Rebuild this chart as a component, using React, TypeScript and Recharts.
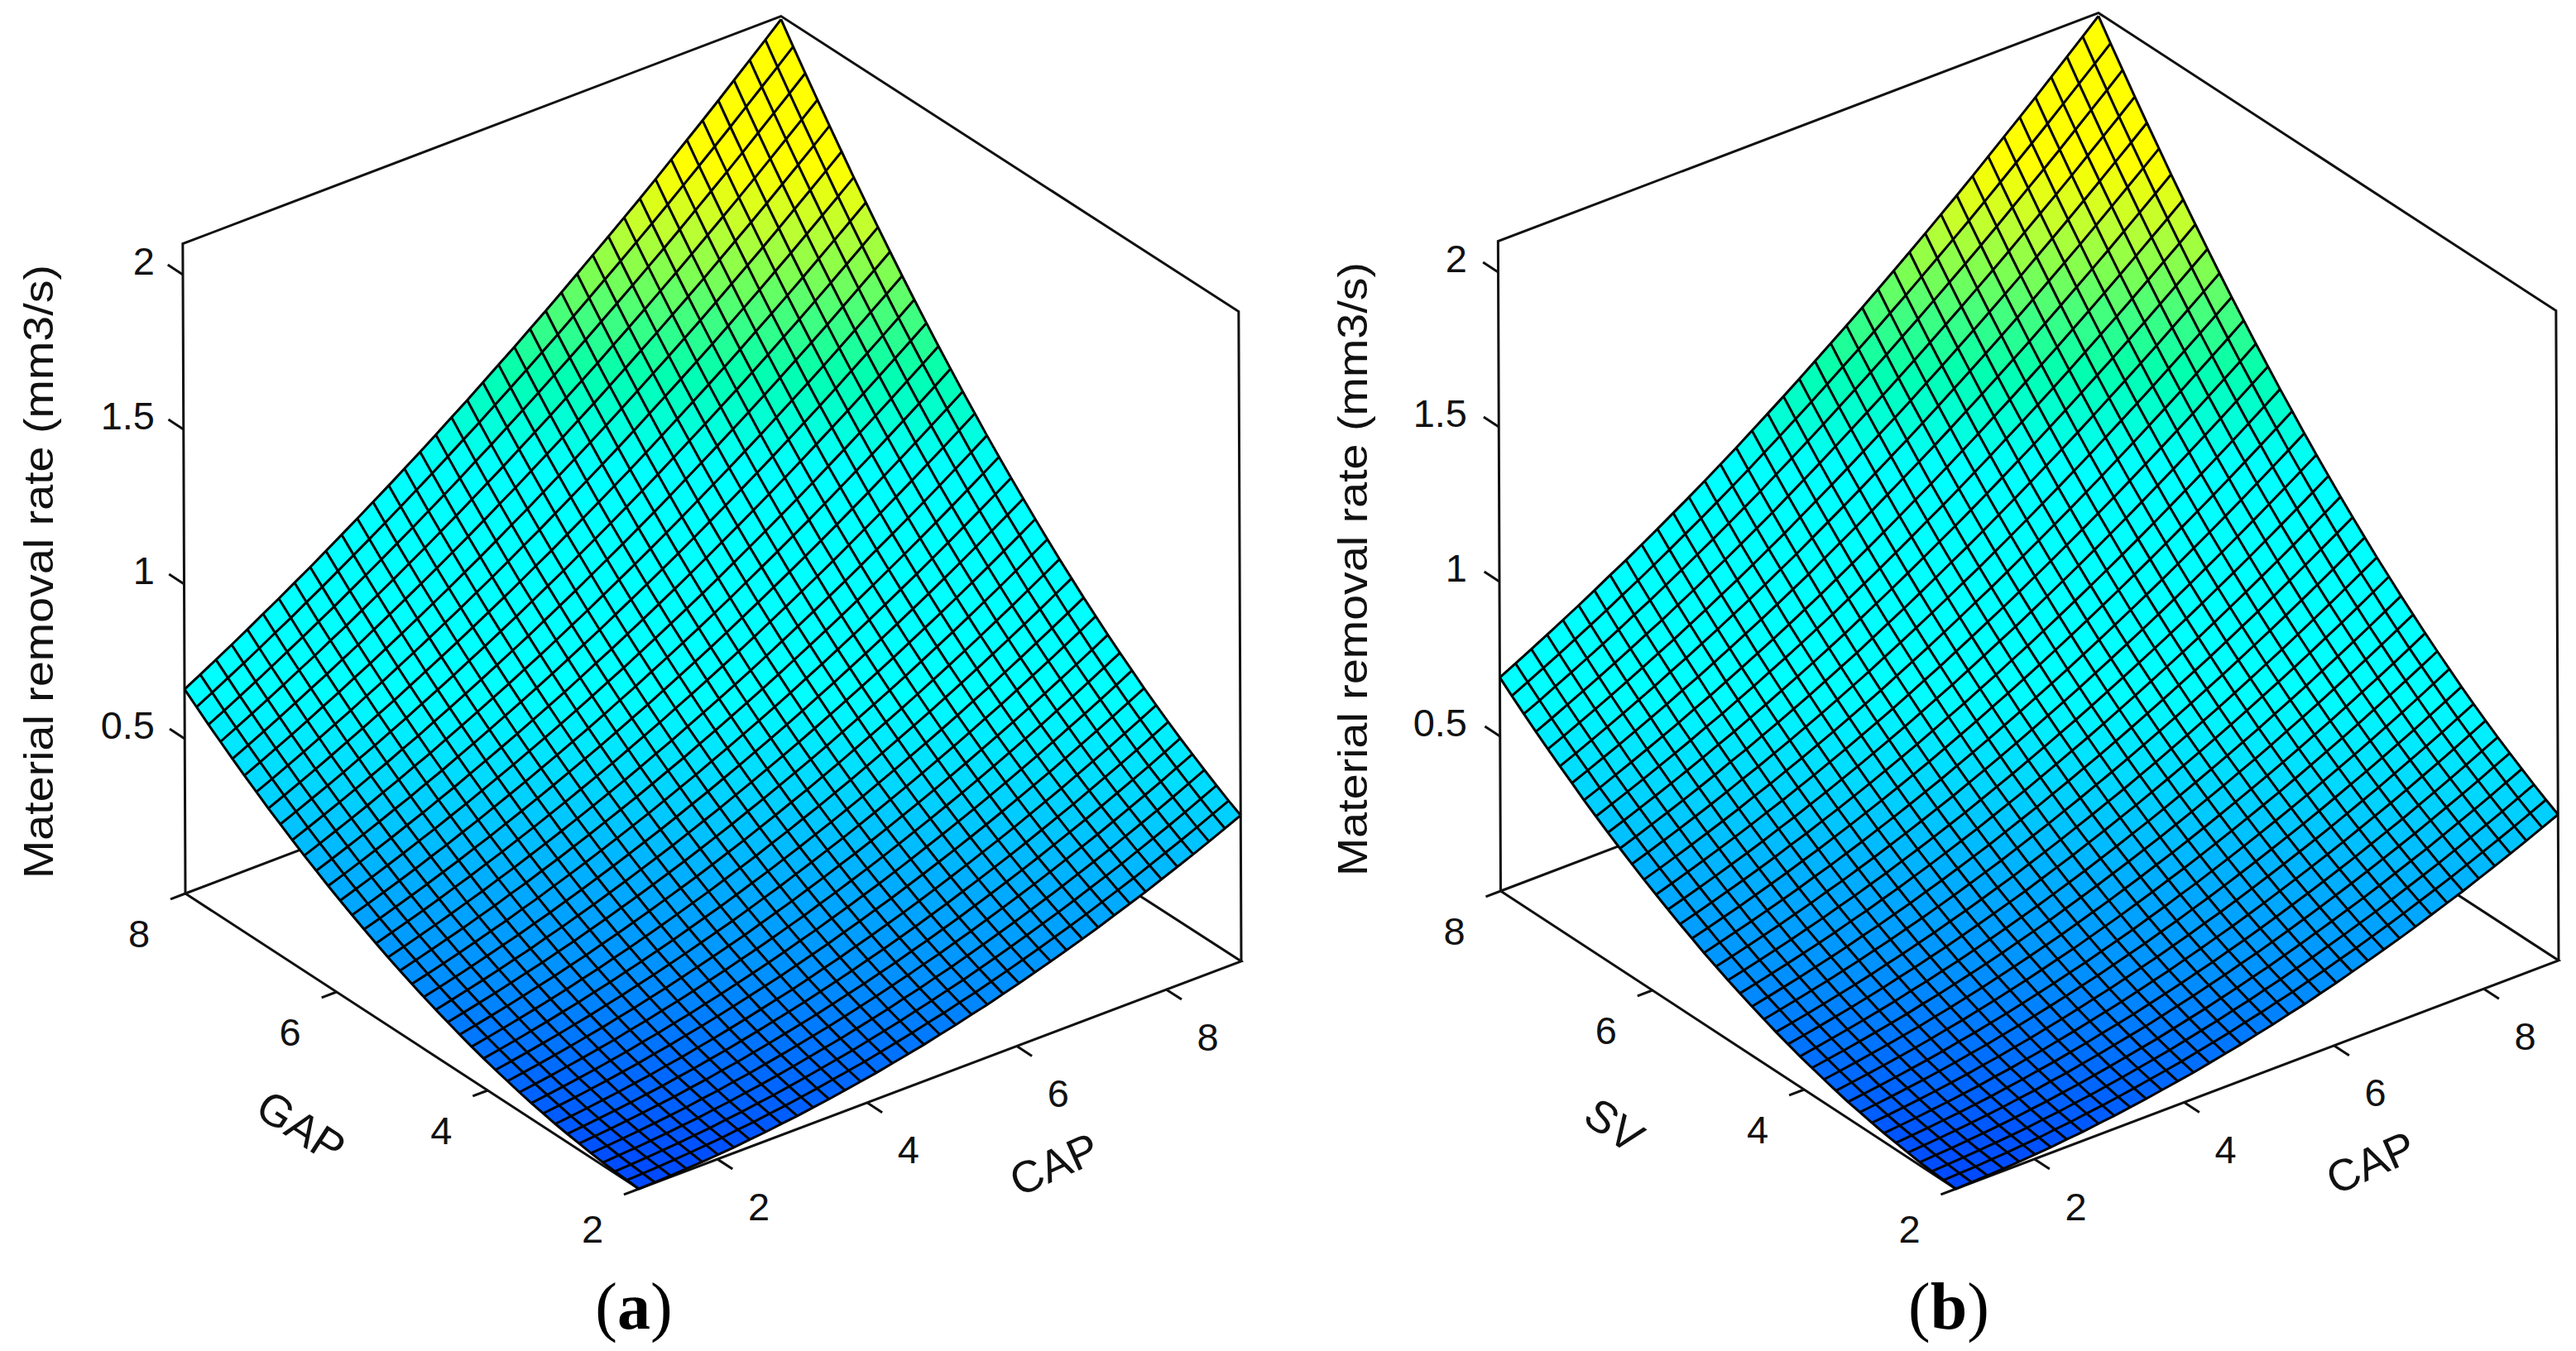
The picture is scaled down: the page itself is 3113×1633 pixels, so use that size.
import React from 'react';
import { ScatterChart, Scatter, XAxis, YAxis } from 'recharts';

const WIDTH = 3113;
const HEIGHT = 1633;

const capTicks = [2, 4, 6, 8];
const gapTicks = [2, 4, 6, 8];
const rateTicks = [0.5, 1, 1.5, 2];

// Surface heights read along the four edges of each mesh (39 nodes per edge).
// The interior table is built from these edges, it was not read node by node.
const aLowGapEdge = [0, .002, .004, .007, .010, .014, .018, .024, .029, .036, .042, .050, .058, .067, .076, .085, .096, .107, .118, .131, .143, .157, .170, .185, .200, .216, .232, .249, .266, .284, .303, .322, .341, .362, .383, .404, .426, .449, .472];
const aHighGapEdge = [.66, .688, .717, .746, .776, .807, .837, .869, .900, .933, .966, .999, 1.033, 1.067, 1.102, 1.137, 1.173, 1.210, 1.246, 1.284, 1.322, 1.360, 1.399, 1.438, 1.478, 1.519, 1.560, 1.601, 1.643, 1.685, 1.728, 1.772, 1.816, 1.860, 1.905, 1.951, 1.997, 2.043, 2.09];
const aLowCapEdge = [0, .003, .006, .010, .015, .021, .027, .034, .043, .051, .061, .072, .083, .095, .108, .122, .137, .152, .168, .185, .203, .221, .241, .261, .282, .304, .326, .350, .374, .399, .425, .451, .479, .507, .536, .566, .596, .628, .66];
const aHighCapEdge = [.472, .494, .518, .543, .569, .595, .623, .652, .682, .714, .746, .779, .814, .849, .886, .923, .962, 1.002, 1.043, 1.085, 1.128, 1.172, 1.218, 1.264, 1.312, 1.360, 1.410, 1.460, 1.512, 1.565, 1.619, 1.674, 1.730, 1.788, 1.846, 1.905, 1.966, 2.027, 2.09];

const bLowSvEdge = aLowGapEdge;
const bHighSvEdge = [.69, .716, .743, .770, .798, .826, .855, .885, .914, .945, .976, 1.008, 1.040, 1.073, 1.107, 1.141, 1.177, 1.213, 1.249, 1.286, 1.324, 1.362, 1.400, 1.439, 1.479, 1.519, 1.560, 1.601, 1.643, 1.685, 1.728, 1.772, 1.816, 1.860, 1.905, 1.951, 1.997, 2.043, 2.09];
const bLowCapEdge = [0, .003, .006, .010, .016, .022, .028, .036, .045, .053, .064, .075, .087, .099, .113, .127, .143, .159, .176, .193, .212, .231, .252, .273, .295, .318, .341, .366, .391, .417, .444, .471, .501, .530, .560, .591, .623, .656, .69];
const bHighCapEdge = aHighCapEdge;

// colour stops of the surface: height, then colour
const colourHeights = [0, .05, .2, .35, .5, .66, 1.1, 1.3, 1.42, 1.52, 1.62, 1.75, 2.1];
const colourValues = ['#0048ff', '#0060ff', '#0090ff', '#00b0ff', '#00d8ff', '#00ffff', '#00ffff', '#00ffb0', '#40ff80', '#80ff50', '#c0ff30', '#ffff00', '#ffff00'];

const CAP_MIN = 0.95;
const CAP_MAX = 9;
const GAP_MIN = 2;
const GAP_MAX = 8;
const RATE_TOP = 2.1;

const panels = [
  {
    id: 'a', front: [772, 1437], capSpan: [728, -275], gapSpan: [-548, -357], rateStep: [-1.5, -374], twist: 5,
    lowSide: aLowGapEdge, highSide: aHighGapEdge, lowCap: aLowCapEdge, highCap: aHighCapEdge,
    depthName: 'GAP', depthLabel: [364, 1362, 33], capLabel: [1274, 1407, -24], rateX: 187, titleX: 47, titleY: 691, caption: [766, 1579],
  },
  {
    id: 'b', front: [2363.5, 1437], capSpan: [728.5, -276], gapSpan: [-550, -360], rateStep: [-1.5, -374], twist: 3,
    lowSide: bLowSvEdge, highSide: bHighSvEdge, lowCap: bLowCapEdge, highCap: bHighCapEdge,
    depthName: 'SV', depthLabel: [1951, 1360, 35], capLabel: [2865, 1405, -24], rateX: 1773, titleX: 1635, titleY: 688, caption: [2355, 1579],
  },
];

type Panel = (typeof panels)[number];

const project = (p: Panel, cap: number, gap: number, rate: number) => {
  const u = (cap - CAP_MIN) / (CAP_MAX - CAP_MIN);
  const v = (gap - GAP_MIN) / (GAP_MAX - GAP_MIN);
  return {
    vx: p.front[0] + u * p.capSpan[0] + v * p.gapSpan[0] + rate * p.rateStep[0] - p.twist * u * v,
    vy: p.front[1] + u * p.capSpan[1] + v * p.gapSpan[1] + rate * p.rateStep[1],
  };
};

const buildHeights = (p: Panel) => {
  const n = p.lowSide.length - 1;
  const c00 = p.lowSide[0];
  const c10 = p.lowSide[n];
  const c01 = p.highSide[0];
  const c11 = p.highSide[n];
  const rows: number[][] = [];
  for (let j = 0; j <= n; j++) {
    const v = j / n;
    const row: number[] = [];
    for (let i = 0; i <= n; i++) {
      const u = i / n;
      row.push(
        (1 - v) * p.lowSide[i] + v * p.highSide[i] + (1 - u) * p.lowCap[j] + u * p.highCap[j]
          - ((1 - u) * (1 - v) * c00 + u * (1 - v) * c10 + (1 - u) * v * c01 + u * v * c11),
      );
    }
    rows.push(row);
  }
  return rows;
};

const colourFor = (h: number) => {
  let k = 0;
  while (k < colourHeights.length - 2 && h > colourHeights[k + 1]) k++;
  const t = Math.min(1, Math.max(0, (h - colourHeights[k]) / (colourHeights[k + 1] - colourHeights[k])));
  const a = colourValues[k];
  const b = colourValues[k + 1];
  const mix = (s: number) => {
    const x = parseInt(a.slice(s, s + 2), 16);
    const y = parseInt(b.slice(s, s + 2), 16);
    return Math.round(x + (y - x) * t);
  };
  return `rgb(${mix(1)},${mix(3)},${mix(5)})`;
};

const capAt = (i: number, n: number) => CAP_MIN + ((CAP_MAX - CAP_MIN) * i) / n;
const gapAt = (j: number, n: number) => GAP_MIN + ((GAP_MAX - GAP_MIN) * j) / n;

const buildCells = (p: Panel, rows: number[][]) => {
  const n = rows.length - 1;
  const cells: any[] = [];
  for (let j = 0; j < n; j++) {
    for (let i = 0; i < n; i++) {
      const corners = [[i, j], [i + 1, j], [i + 1, j + 1], [i, j + 1]].map(([a, b]) =>
        project(p, capAt(a, n), gapAt(b, n), rows[b][a]),
      );
      const vx = corners.reduce((s, c) => s + c.vx, 0) / 4;
      const vy = corners.reduce((s, c) => s + c.vy, 0) / 4;
      const mean = (rows[j][i] + rows[j][i + 1] + rows[j + 1][i + 1] + rows[j + 1][i]) / 4;
      cells.push({ vx, vy, fill: colourFor(mean), offsets: corners.map((c) => [c.vx - vx, c.vy - vy]) });
    }
  }
  return cells;
};

// the axes run one unit to one pixel, so the offsets can be used as they are
const CellShape = (props: any) => {
  const { cx, cy, payload } = props;
  const pts = payload.offsets.map((o: number[]) => `${cx + o[0]},${cy + o[1]}`).join(' ');
  return <polygon points={pts} fill={payload.fill} stroke={payload.fill} strokeWidth={0.6} />;
};

const NoMark = () => <g />;

const LabelShape = (props: any) => {
  const { cx, cy, payload } = props;
  return (
    <text
      x={cx}
      y={cy}
      textAnchor={payload.anchor || 'middle'}
      dominantBaseline="central"
      fontFamily="'Liberation Sans', Arial, sans-serif"
      fontSize={payload.size}
      fill="#111"
      textLength={payload.fit}
      lengthAdjust={payload.fit ? 'spacingAndGlyphs' : undefined}
      transform={payload.rotate ? `rotate(${payload.rotate} ${cx} ${cy})` : undefined}
    >
      {payload.text}
    </text>
  );
};

const CaptionShape = (props: any) => {
  const { cx, cy, payload } = props;
  return (
    <text x={cx} y={cy} textAnchor="middle" dominantBaseline="central" fontFamily="'Liberation Serif', 'Times New Roman', serif" fontSize={80} fill="#000">
      (<tspan fontWeight="bold">{payload.text}</tspan>)
    </text>
  );
};

const lineStyle = { stroke: '#111', strokeWidth: 3 };
const meshStyle = { stroke: '#000', strokeWidth: 3 };

const renderBox = (p: Panel) => {
  const corner = (c: number, g: number, r: number) => project(p, c, g, r);
  const paths = [
    [corner(CAP_MIN, GAP_MAX, 0), corner(CAP_MIN, GAP_MAX, RATE_TOP), corner(CAP_MAX, GAP_MAX, RATE_TOP), corner(CAP_MAX, GAP_MIN, RATE_TOP), corner(CAP_MAX, GAP_MIN, 0)],
    [corner(CAP_MIN, GAP_MAX, 0), corner(CAP_MAX, GAP_MAX, 0), corner(CAP_MAX, GAP_MIN, 0), corner(CAP_MIN, GAP_MIN, 0), corner(CAP_MIN, GAP_MAX, 0)],
    ...capTicks.map((c) => [corner(c, GAP_MIN, 0), corner(c, GAP_MIN - 0.2, 0)]),
    ...gapTicks.map((g) => [corner(CAP_MIN, g, 0), corner(CAP_MIN - 0.2, g, 0)]),
    ...rateTicks.map((r) => [corner(CAP_MIN, GAP_MAX, r), corner(CAP_MIN, GAP_MAX + 0.2, r)]),
  ];
  return paths.map((pts, k) => (
    <Scatter key={`${p.id}-box-${k}`} data={pts} line={lineStyle} shape={NoMark} isAnimationActive={false} />
  ));
};

const renderSurface = (p: Panel) => {
  const rows = buildHeights(p);
  const n = rows.length - 1;
  const cells = buildCells(p, rows);
  const lines: any[][] = [];
  for (let j = 0; j <= n; j++) lines.push(rows[j].map((h, i) => project(p, capAt(i, n), gapAt(j, n), h)));
  for (let i = 0; i <= n; i++) lines.push(rows.map((row, j) => project(p, capAt(i, n), gapAt(j, n), row[i])));
  return [
    <Scatter key={`${p.id}-cells`} data={cells} shape={CellShape} isAnimationActive={false} />,
    ...lines.map((pts, k) => (
      <Scatter key={`${p.id}-mesh-${k}`} data={pts} line={meshStyle} shape={NoMark} isAnimationActive={false} />
    )),
  ];
};

const renderLabels = (p: Panel) => {
  const labels: any[] = [];
  capTicks.forEach((c) => {
    const t = project(p, c, GAP_MIN, 0);
    labels.push({ vx: t.vx + 50, vy: t.vy + 57, text: String(c), size: 47 });
  });
  gapTicks.forEach((g) => {
    const t = project(p, CAP_MIN, g, 0);
    labels.push({ vx: t.vx - 56, vy: t.vy + 48, text: String(g), size: 47 });
  });
  rateTicks.forEach((r) => {
    const t = project(p, CAP_MIN, GAP_MAX, r);
    labels.push({ vx: p.rateX, vy: t.vy - 17, text: String(r), size: 47, anchor: 'end' });
  });
  labels.push({ vx: p.depthLabel[0], vy: p.depthLabel[1], text: p.depthName, size: 54, rotate: p.depthLabel[2] });
  labels.push({ vx: p.capLabel[0], vy: p.capLabel[1], text: 'CAP', size: 54, rotate: p.capLabel[2] });
  labels.push({ vx: p.titleX, vy: p.titleY, text: 'Material removal  rate (mm3/s)', size: 50, rotate: -90, fit: 742 });
  return [
    <Scatter key={`${p.id}-labels`} data={labels} shape={LabelShape} isAnimationActive={false} />,
    <Scatter key={`${p.id}-caption`} data={[{ vx: p.caption[0], vy: p.caption[1], text: p.id }]} shape={CaptionShape} isAnimationActive={false} />,
  ];
};

export default function App() {
  return (
    <div style={{ position: 'absolute', left: 0, top: 0, width: WIDTH, height: HEIGHT, background: '#fff' }}>
      <ScatterChart width={WIDTH} height={HEIGHT} margin={{ top: 0, right: 0, bottom: 0, left: 0 }}>
        <XAxis type="number" dataKey="vx" domain={[0, WIDTH]} hide allowDataOverflow />
        <YAxis type="number" dataKey="vy" domain={[0, HEIGHT]} reversed hide allowDataOverflow />
        {panels.map((p) => renderBox(p))}
        {panels.map((p) => renderSurface(p))}
        {panels.map((p) => renderLabels(p))}
      </ScatterChart>
    </div>
  );
}
